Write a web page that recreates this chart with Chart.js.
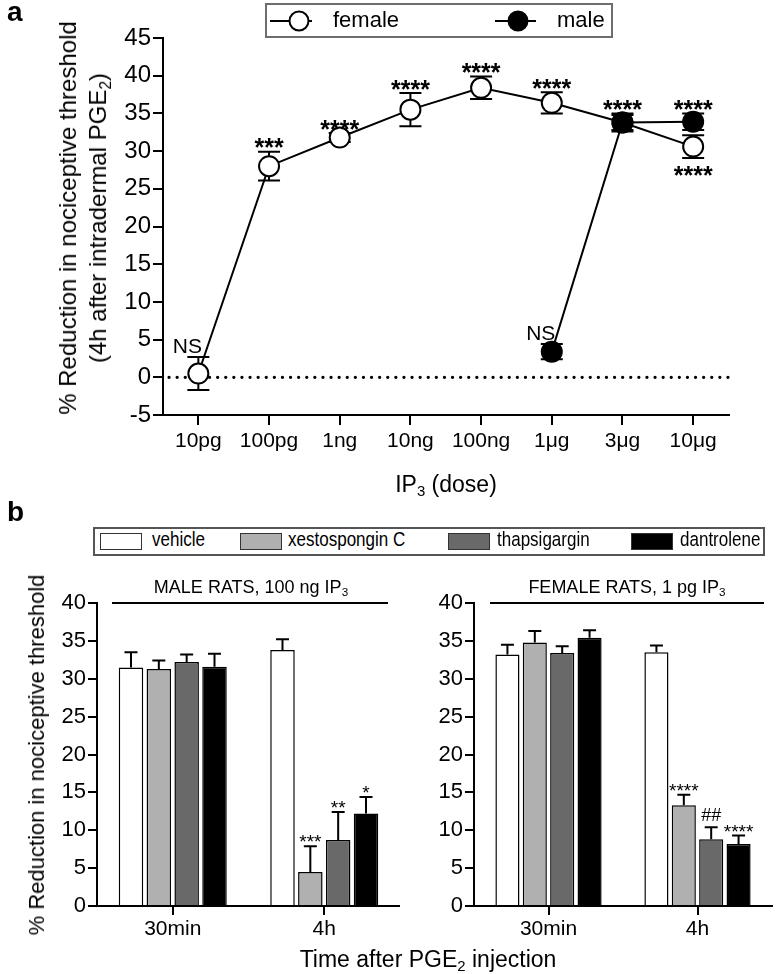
<!DOCTYPE html>
<html>
<head>
<meta charset="utf-8">
<script src="https://cdn.jsdelivr.net/npm/chart.js@4.4.1/dist/chart.umd.min.js"></script>
<style>
  body { margin: 0; width: 780px; height: 974px; position: relative; background: #fff; overflow: hidden;
         font-family: "Liberation Sans", Arial, sans-serif; color: #000; }
  canvas { position: absolute; }
  .abs { position: absolute; white-space: nowrap; }
  .mid { position: absolute; white-space: nowrap; transform: translate(-50%, -50%); }
  .rot { position: absolute; white-space: nowrap; text-align: center; transform: translate(-50%, -50%) rotate(-90deg); }
  sub { font-size: 65%; vertical-align: -0.3em; line-height: 0; }
  .legA { position: absolute; left: 265px; top: 3px; width: 348px; height: 35px; box-sizing: border-box; border: 2px solid #6d6d6d; }
  .legB { position: absolute; left: 93px; top: 527px; width: 672px; height: 29px; box-sizing: border-box; border: 2px solid #555; }
  .sw { position: absolute; top: 533px; width: 42px; height: 17px; box-sizing: border-box; border: 1.5px solid #333; }
  .lb { position: absolute; top: 527px; font-size: 20.5px; transform: scaleX(0.83); transform-origin: left center; }
</style>
</head>
<body>

<!-- panel a -->
<canvas id="chartA" width="780" height="500" style="left:0;top:0"></canvas>
<div class="abs" style="left:7px;top:-4px;font-weight:bold;font-size:28px">a</div>
<div class="legA"></div>
<svg class="abs" style="left:0;top:0" width="780" height="45">
  <line x1="270" y1="21" x2="312" y2="21" stroke="#000" stroke-width="2"/>
  <circle cx="299" cy="21" r="9.5" fill="#fff" stroke="#000" stroke-width="2"/>
  <line x1="495" y1="21" x2="536" y2="21" stroke="#000" stroke-width="2"/>
  <circle cx="518" cy="21" r="9.5" fill="#000" stroke="#000" stroke-width="2"/>
</svg>
<div class="abs" style="left:333px;top:7px;font-size:22px">female</div>
<div class="abs" style="left:557px;top:7px;font-size:22px">male</div>
<div class="rot" style="left:83px;top:218px;font-size:24px;line-height:30px">% Reduction in nociceptive threshold<br>(4h after intradermal PGE<sub>2</sub>)</div>
<div class="mid" style="left:446px;top:484px;font-size:23px">IP<sub>3</sub> (dose)</div>

<!-- panel b -->
<canvas id="chartMale" width="400" height="414" style="left:0;top:560px"></canvas>
<canvas id="chartFemale" width="380" height="414" style="left:400px;top:560px"></canvas>
<div class="abs" style="left:7px;top:496px;font-weight:bold;font-size:28px">b</div>
<div class="legB"></div>
<div class="sw" style="left:100px;background:#fff"></div>
<div class="lb" style="left:152px">vehicle</div>
<div class="sw" style="left:240px;background:#b0b0b0"></div>
<div class="lb" style="left:288px">xestospongin C</div>
<div class="sw" style="left:448px;background:#696969"></div>
<div class="lb" style="left:497px">thapsigargin</div>
<div class="sw" style="left:631px;background:#000"></div>
<div class="lb" style="left:680px">dantrolene</div>

<div class="mid" style="left:251px;top:587px;font-size:18px">MALE RATS, 100 ng IP<sub>3</sub></div>
<div class="abs" style="left:112px;top:602px;width:276px;height:1.5px;background:#000"></div>
<div class="mid" style="left:627px;top:587px;font-size:18px">FEMALE RATS, 1 pg IP<sub>3</sub></div>
<div class="abs" style="left:490px;top:602px;width:274px;height:1.5px;background:#000"></div>
<div class="rot" style="left:37px;top:755px;font-size:22px">% Reduction in nociceptive threshold</div>
<div class="mid" style="left:428px;top:959px;font-size:23px">Time after PGE<sub>2</sub> injection</div>

<script>
// Panel a: dose response
const doses = ["10pg", "100pg", "1ng", "10ng", "100ng", "1\u03bcg", "3\u03bcg", "10\u03bcg"];
const female = [0.5, 28.0, 31.8, 35.5, 38.4, 36.4, 33.8, 30.6];
const femaleErr = [2.2, 1.9, 0.6, 2.2, 1.5, 1.4, 1.0, 1.5];
const femaleSig = ["NS", "***", "****", "****", "****", "****", "", "****"];
const male = [null, null, null, null, null, 3.4, 33.8, 33.9];
const maleErr = [null, null, null, null, null, 1.0, 1.2, 1.1];
const maleSig = ["", "", "", "", "", "NS", "****", "****"];
const yTicksA = [-5, 0, 5, 10, 15, 20, 25, 30, 35, 40, 45];

// Panel b: bars
const times = ["30min", "4h"];
const groups = ["vehicle", "xestospongin C", "thapsigargin", "dantrolene"];
const groupColors = ["#ffffff", "#b0b0b0", "#696969", "#000000"];
const maleVehicle = [31.5, 33.8], maleVehicleErr = [2.0, 1.4], maleVehicleSig = ["", ""];
const maleXesto = [31.3, 4.5], maleXestoErr = [1.1, 3.4], maleXestoSig = ["", "***"];
const maleThaps = [32.2, 8.7], maleThapsErr = [1.0, 3.7], maleThapsSig = ["", "**"];
const maleDantro = [31.6, 12.2], maleDantroErr = [1.7, 2.2], maleDantroSig = ["", "*"];
const femVehicle = [33.2, 33.5], femVehicleErr = [1.3, 0.9], femVehicleSig = ["", ""];
const femXesto = [34.8, 13.3], femXestoErr = [1.5, 1.4], femXestoSig = ["", "****"];
const femThaps = [33.4, 8.8], femThapsErr = [0.9, 1.6], femThapsSig = ["", "##"];
const femDantro = [35.4, 8.2], femDantroErr = [1.0, 1.1], femDantroSig = ["", "****"];
const yTicksB = [0, 5, 10, 15, 20, 25, 30, 35, 40];

Chart.defaults.font.family = "'Liberation Sans', Arial, sans-serif";
Chart.defaults.color = "#000";

// error bars, drawn under the markers
const errorBars = {
  id: "errorBars",
  beforeDatasetsDraw(chart, args, opts) {
    const ctx = chart.ctx, y = chart.scales.y;
    chart.data.datasets.forEach((ds, di) => {
      const meta = chart.getDatasetMeta(di);
      meta.data.forEach((el, i) => {
        const v = ds.data[i], e = ds.err ? ds.err[i] : null;
        if (v == null || e == null) return;
        const top = y.getPixelForValue(v + e);
        const bot = y.getPixelForValue(opts.twoSided ? v - e : v);
        ctx.save();
        ctx.strokeStyle = "#000";
        ctx.lineWidth = opts.lineWidth;
        ctx.beginPath();
        ctx.moveTo(el.x, top); ctx.lineTo(el.x, bot);
        ctx.moveTo(el.x - opts.cap, top); ctx.lineTo(el.x + opts.cap, top);
        if (opts.twoSided) { ctx.moveTo(el.x - opts.cap, bot); ctx.lineTo(el.x + opts.cap, bot); }
        ctx.stroke();
        ctx.restore();
      });
    });
  }
};

// significance marks above the error bars (below if the other series leaves no room)
const sigMarks = {
  id: "sigMarks",
  afterDatasetsDraw(chart, args, opts) {
    const ctx = chart.ctx, y = chart.scales.y, sets = chart.data.datasets;
    ctx.save();
    ctx.fillStyle = "#000";
    ctx.textAlign = "center";
    ctx.textBaseline = "alphabetic";
    sets.forEach((ds, di) => {
      if (!ds.sig) return;
      const meta = chart.getDatasetMeta(di);
      meta.data.forEach((el, i) => {
        const s = ds.sig[i];
        if (!s) return;
        const v = ds.data[i], e = ds.err[i] || 0;
        const below = opts.allowBelow && sets.some((o, oi) => oi !== di && o.data[i] != null &&
          o.data[i] > v && (o.data[i] - (o.err[i] || 0)) - (v + e) < 3);
        const stars = /^\*+$/.test(s);
        let x = el.x, base;
        if (below) {
          base = y.getPixelForValue(v - e) + opts.belowGap;
        } else {
          const cap = y.getPixelForValue(v + e);
          base = stars ? cap + opts.starDrop : cap - opts.textGap;
        }
        if (s === "NS") x += opts.nsShift;
        ctx.font = stars ? opts.starFont : opts.textFont;
        ctx.fillText(s, x, base);
      });
    });
    ctx.restore();
  }
};

// dotted zero line
const zeroLine = {
  id: "zeroLine",
  beforeDatasetsDraw(chart) {
    const ctx = chart.ctx, a = chart.chartArea, y0 = chart.scales.y.getPixelForValue(0);
    ctx.save();
    ctx.strokeStyle = "#000";
    ctx.lineWidth = 3.2;
    ctx.lineCap = "round";
    ctx.setLineDash([0.1, 8]);
    ctx.beginPath();
    ctx.moveTo(a.left + 6, y0);
    ctx.lineTo(a.right, y0);
    ctx.stroke();
    ctx.restore();
  }
};

new Chart(document.getElementById("chartA"), {
  type: "line",
  data: {
    labels: doses,
    datasets: [
      { label: "male", data: male, err: maleErr, sig: maleSig, order: 0,
        borderColor: "#000", borderWidth: 2, pointRadius: 10, pointBorderWidth: 2,
        pointBackgroundColor: "#000", pointBorderColor: "#000", spanGaps: false },
      { label: "female", data: female, err: femaleErr, sig: femaleSig, order: 1,
        borderColor: "#000", borderWidth: 2, pointRadius: 10, pointBorderWidth: 2,
        pointBackgroundColor: "#fff", pointBorderColor: "#000" }
    ]
  },
  options: {
    responsive: false,
    animation: false,
    layout: { padding: { left: 0, right: 51.5, top: 38, bottom: 0 } },
    plugins: {
      legend: { display: false },
      tooltip: { enabled: false },
      errorBars: { twoSided: true, cap: 11, lineWidth: 2 },
      sigMarks: { allowBelow: true, starFont: "bold 25px 'Liberation Sans', Arial", textFont: "21px 'Liberation Sans', Arial",
                  starDrop: 4.5, textGap: 4, belowGap: 26, nsShift: -11 }
    },
    scales: {
      x: {
        offset: true,
        afterFit: s => { s.height = 85; },
        grid: { drawOnChartArea: false, drawTicks: true, tickLength: 10, color: "#000", lineWidth: 2 },
        border: { display: true, color: "#000", width: 2 },
        ticks: { font: { size: 21 }, padding: 4, maxRotation: 0, autoSkip: false }
      },
      y: {
        min: -5, max: 45,
        afterFit: s => { s.width = 163; },
        afterBuildTicks: s => { s.ticks = yTicksA.map(v => ({ value: v })); },
        grid: { drawOnChartArea: false, drawTicks: true, tickLength: 10, color: "#000", lineWidth: 2 },
        border: { display: true, color: "#000", width: 2 },
        ticks: { font: { size: 24 }, padding: 2 }
      }
    }
  },
  plugins: [zeroLine, errorBars, sigMarks]
});

function barChart(id, padRight, axisWidth, series) {
  return new Chart(document.getElementById(id), {
    type: "bar",
    data: {
      labels: times,
      datasets: series.map((s, i) => ({
        label: groups[i], data: s[0], err: s[1], sig: s[2],
        backgroundColor: groupColors[i], borderColor: "#000", borderWidth: 1.5,
        categoryPercentage: 0.735, barPercentage: 0.88
      }))
    },
    options: {
      responsive: false,
      animation: false,
      layout: { padding: { left: 0, right: padRight, top: 43, bottom: 0 } },
      plugins: {
        legend: { display: false },
        tooltip: { enabled: false },
        errorBars: { twoSided: false, cap: 6.5, lineWidth: 2 },
        sigMarks: { allowBelow: false, starFont: "19px 'Liberation Sans', Arial", textFont: "18px 'Liberation Sans', Arial",
                    starDrop: 2, textGap: 6, belowGap: 20, nsShift: 0 }
      },
      scales: {
        x: {
          afterFit: s => { s.height = 68; },
          grid: { offset: false, drawOnChartArea: false, drawTicks: true, tickLength: 9, color: "#000", lineWidth: 2 },
          border: { display: true, color: "#000", width: 2 },
          ticks: { font: { size: 21 }, padding: 2, maxRotation: 0 }
        },
        y: {
          min: 0, max: 40,
          afterFit: s => { s.width = axisWidth; },
          afterBuildTicks: s => { s.ticks = yTicksB.map(v => ({ value: v })); },
          grid: { drawOnChartArea: false, drawTicks: true, tickLength: 9, color: "#000", lineWidth: 2 },
          border: { display: true, color: "#000", width: 2 },
          ticks: { font: { size: 22 }, padding: 2 }
        }
      }
    },
    plugins: [errorBars, sigMarks]
  });
}

barChart("chartMale", 0, 97, [
  [maleVehicle, maleVehicleErr, maleVehicleSig],
  [maleXesto, maleXestoErr, maleXestoSig],
  [maleThaps, maleThapsErr, maleThapsSig],
  [maleDantro, maleDantroErr, maleDantroSig]
]);
barChart("chartFemale", 8, 74, [
  [femVehicle, femVehicleErr, femVehicleSig],
  [femXesto, femXestoErr, femXestoSig],
  [femThaps, femThapsErr, femThapsSig],
  [femDantro, femDantroErr, femDantroSig]
]);
</script>
</body>
</html>
